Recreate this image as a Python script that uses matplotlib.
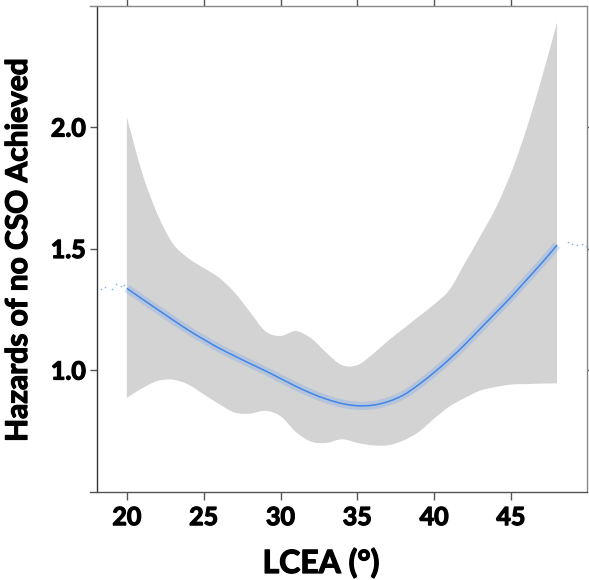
import matplotlib
matplotlib.use('Agg')
import matplotlib.pyplot as plt
from matplotlib.path import Path
from matplotlib.patches import PathPatch
import matplotlib.patheffects as pe
import numpy as np

# ---- data ----
lcea = [20, 21, 22, 23, 24, 25, 26, 27, 28, 29, 30, 31, 32, 33, 34,
        35, 36, 37, 38, 39, 40, 41, 42, 43, 44, 45, 46, 47, 48]
hazard = [1.336, 1.292, 1.249, 1.206, 1.164, 1.126, 1.090, 1.058, 1.027, 0.997,
          0.965, 0.933, 0.904, 0.880, 0.862, 0.853, 0.855, 0.870, 0.897, 0.940,
          0.990, 1.045, 1.105, 1.170, 1.235, 1.300, 1.370, 1.440, 1.514]
upper = [2.04, 1.81, 1.64, 1.52, 1.46, 1.42, 1.38, 1.32, 1.24, 1.16, 1.14,
         1.16, 1.13, 1.07, 1.02, 1.02, 1.065, 1.12, 1.17, 1.22, 1.27,
         1.33, 1.44, 1.55, 1.665, 1.81, 1.99, 2.20, 2.43]
lower = [0.885, 0.925, 0.955, 0.96, 0.94, 0.90, 0.86, 0.825, 0.82, 0.832,
         0.81, 0.745, 0.705, 0.70, 0.715, 0.70, 0.69, 0.69, 0.71, 0.745,
         0.80, 0.85, 0.885, 0.915, 0.93, 0.94, 0.942, 0.944, 0.945]
outside_x = [18.3, 18.6, 19.0, 19.3, 19.6, 19.8, 48.7, 49.0, 49.3, 49.6, 49.9]
outside_y = [1.335, 1.34, 1.335, 1.355, 1.345, 1.35, 1.525, 1.52, 1.515, 1.52, 1.51]

x_ticks = [20, 25, 30, 35, 40, 45]
y_ticks = [1.0, 1.5, 2.0]
y_tick_labels = ['1.0', '1.5', '2.0']


def smooth_segments(xs, ys):
    """Vertices/codes of a smooth (Catmull-Rom as Bezier) curve through the points."""
    p = np.column_stack([xs, ys]).astype(float)
    n = len(p)
    verts, codes = [], []
    for i in range(n - 1):
        p0 = p[max(i - 1, 0)]
        p1 = p[i]
        p2 = p[i + 1]
        p3 = p[min(i + 2, n - 1)]
        c1 = p1 + (p2 - p0) / 6.0
        c2 = p2 - (p3 - p1) / 6.0
        verts += [tuple(c1), tuple(c2), tuple(p2)]
        codes += [Path.CURVE4] * 3
    return verts, codes


plt.rcParams['font.family'] = ['Lato', 'DejaVu Sans']
heavy = [pe.withStroke(linewidth=0.9, foreground='black')]

fig = plt.figure(figsize=(5.89, 5.80), dpi=100)
ax = fig.add_axes([90 / 589, 88.5 / 580, 497 / 589, 486 / 580])

# confidence band
uv, uc = smooth_segments(lcea, upper)
lv, lc = smooth_segments(lcea[::-1], lower[::-1])
verts = [(lcea[0], upper[0])] + uv + [(lcea[-1], lower[-1])] + lv + [(lcea[0], upper[0])]
codes = [Path.MOVETO] + uc + [Path.LINETO] + lc + [Path.CLOSEPOLY]
ax.add_patch(PathPatch(Path(verts, codes), facecolor='#d3d3d3', edgecolor='none', zorder=1))

# fitted curve with a faint halo like the jittered points
hv, hc = smooth_segments(lcea, hazard)
line_path = Path([(lcea[0], hazard[0])] + hv, [Path.MOVETO] + hc)
ax.add_patch(PathPatch(line_path, facecolor='none', edgecolor='#7fa9ea', lw=6,
                       alpha=0.35, capstyle='butt', zorder=2))
ax.add_patch(PathPatch(line_path, facecolor='none', edgecolor='#3f86e8', lw=1.1,
                       zorder=3))
ax.scatter(outside_x, outside_y, s=1.5, color='#8fb6ee', lw=0, zorder=3)

ax.set_xlim(17.6, 49.95)
ax.set_ylim(0.5, 2.5)
ax.set_xticks(x_ticks)
ax.set_yticks(y_ticks)
ax.set_yticklabels(y_tick_labels)

for side, col in [('left', '#333333'), ('bottom', '#555555'),
                  ('top', '#888888'), ('right', '#888888')]:
    ax.spines[side].set_color(col)
    ax.spines[side].set_linewidth(1.0)
ax.spines['left'].set_position(('outward', -7 * 72 / 100))

ax.tick_params(axis='x', which='both', top=True, direction='out', length=5.5,
               width=1, color='#555555', labelsize=18, pad=5)
ax.tick_params(axis='y', which='both', right=True, direction='out', length=5,
               width=1, color='#555555', labelsize=18, pad=3)
for lab in ax.get_xticklabels() + ax.get_yticklabels():
    lab.set_fontweight('bold')
    lab.set_path_effects(heavy)

fig.text(321 / 589, 1 - 573 / 580, 'LCEA (°)', ha='center', va='baseline',
         fontsize=23, fontweight='bold', path_effects=heavy)
fig.text(18 / 589, 1 - 250 / 580, 'Hazards of no CSO Achieved', ha='center',
         va='center', rotation=90, fontsize=21.5, fontweight='bold', path_effects=heavy)

fig.savefig('out.png', dpi=100)
